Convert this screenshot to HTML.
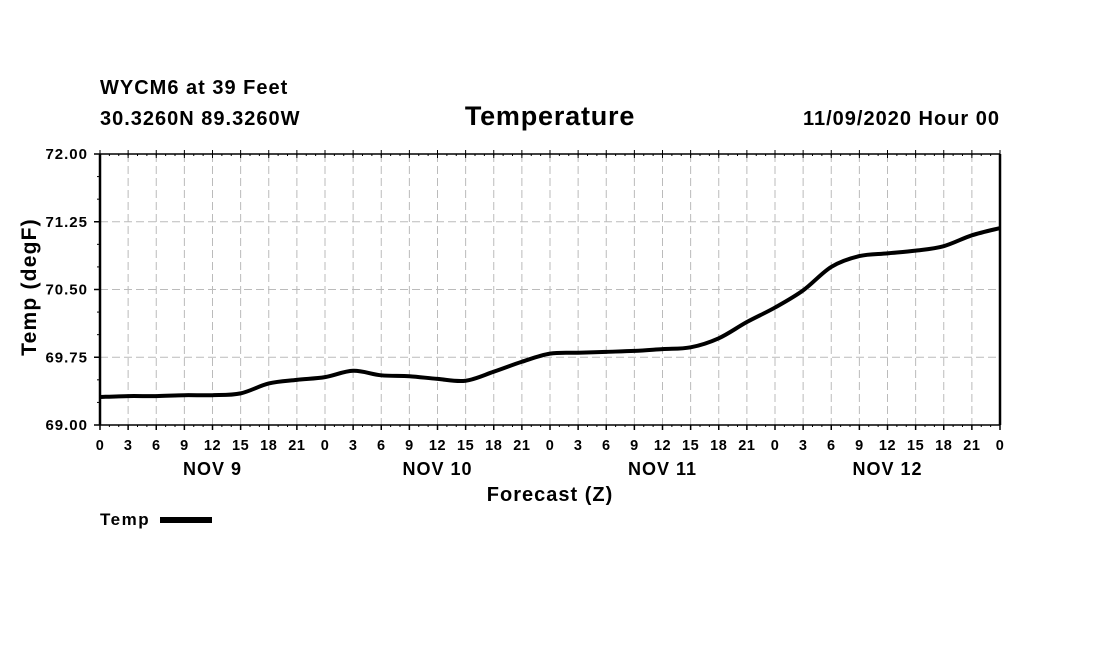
<!DOCTYPE html>
<html><head><meta charset="utf-8"><style>
body{margin:0;background:#fff;}
svg{display:block;font-family:"Liberation Sans",sans-serif;font-weight:bold;}
</style></head><body>
<svg width="1100" height="650" viewBox="0 0 1100 650">
<text x="100" y="94" font-size="20" letter-spacing="1">WYCM6 at 39 Feet</text>
<text x="100" y="125" font-size="20" letter-spacing="1">30.3260N 89.3260W</text>
<text x="550" y="125" font-size="27" letter-spacing="0.8" text-anchor="middle">Temperature</text>
<text x="1000" y="125" font-size="20" letter-spacing="1" text-anchor="end">11/09/2020 Hour 00</text>
<g id="grid"></g>
<g id="axes"></g>
<path id="line" fill="none" stroke="#000" stroke-width="4" stroke-linejoin="round"></path>
<text transform="translate(36,287) rotate(-90)" font-size="21" letter-spacing="1.2" text-anchor="middle">Temp (degF)</text>
<text x="550" y="501" font-size="20" letter-spacing="1" text-anchor="middle">Forecast (Z)</text>
<text x="100" y="525" font-size="17" letter-spacing="1.5">Temp</text>
<rect x="160" y="517" width="52" height="6" fill="#000"></rect>
</svg>
<script>
const hours=[0,3,6,9,12,15,18,21,24,27,30,33,36,39,42,45,48,51,54,57,60,63,66,69,72,75,78,81,84,87,90,93,96];
const temps=[69.31,69.32,69.32,69.33,69.33,69.35,69.46,69.50,69.53,69.60,69.55,69.54,69.51,69.49,69.59,69.70,69.79,69.80,69.81,69.82,69.84,69.86,69.96,70.14,70.30,70.49,70.75,70.87,70.90,70.93,70.98,71.10,71.18];
const yTicks=[69.00,69.75,70.50,71.25,72.00];
const dayLabels=["NOV 9","NOV 10","NOV 11","NOV 12"];
const X0=100,X1=1000,Y0=425,Y1=154,YMIN=69,YMAX=72,HMAX=96;
const xs=h=>X0+(X1-X0)*h/HMAX;
const ys=v=>Y0-(Y0-Y1)*(v-YMIN)/(YMAX-YMIN);
const NS="http://www.w3.org/2000/svg";
const grid=document.getElementById('grid'),axes=document.getElementById('axes');
function mk(tag,attrs,parent){const e=document.createElementNS(NS,tag);for(const k in attrs)e.setAttribute(k,attrs[k]);parent.appendChild(e);return e;}
for(let h=3;h<HMAX;h+=3){
 const l=mk('line',{x1:xs(h),x2:xs(h),y1:Y1,y2:Y0,stroke:'#bbb','stroke-width':1,'stroke-dasharray':'8,4'},grid);
 
 
}
yTicks.forEach((v,i)=>{
 if(i>0&&i<yTicks.length-1){
  const l=mk('line',{x1:X0,x2:X1,y1:ys(v),y2:ys(v),stroke:'#bbb','stroke-width':1,'stroke-dasharray':'8,4'},grid);
  
  
 }
 const t=mk('text',{x:88,y:ys(v)+5,'font-size':15,'letter-spacing':1,'text-anchor':'end'},axes);
 t.textContent=v.toFixed(2);
 
 
 mk('line',{x1:X0-6,x2:X0,y1:ys(v),y2:ys(v),stroke:'#000','stroke-width':1.5},axes);
});
for(let v=YMIN;v<=YMAX+1e-6;v+=0.25){mk('line',{x1:X0-3,x2:X0,y1:ys(v),y2:ys(v),stroke:'#000','stroke-width':1},axes);}
for(let h=0;h<=HMAX;h+=3){
 mk('line',{x1:xs(h),x2:xs(h),y1:Y0,y2:Y0+5,stroke:'#000','stroke-width':1.5},axes);
 mk('line',{x1:xs(h),x2:xs(h),y1:Y1-4,y2:Y1+4,stroke:'#000','stroke-width':1},axes);
 const t=mk('text',{x:xs(h),y:450,'font-size':14.5,'letter-spacing':0.5,'text-anchor':'middle'},axes);
 t.textContent=String(h%24);
 
 
}
for(let h=0;h<HMAX;h+=1){mk('line',{x1:xs(h),x2:xs(h),y1:Y0,y2:Y0+2,stroke:'#000','stroke-width':1},axes);mk('line',{x1:xs(h),x2:xs(h),y1:Y1,y2:Y1+2,stroke:'#000','stroke-width':1},axes);}
dayLabels.forEach((d,i)=>{
 const t=mk('text',{x:xs(i*24+12),y:475,'font-size':18,'letter-spacing':1,'text-anchor':'middle'},axes);
 t.textContent=d;
 
 
});
mk('line',{x1:X0,x2:X1,y1:Y1,y2:Y1,stroke:'#000','stroke-width':1.5},axes);
mk('line',{x1:X0,x2:X1,y1:Y0,y2:Y0,stroke:'#000','stroke-width':1.5},axes);
mk('line',{x1:X0,x2:X0,y1:Y1,y2:Y0,stroke:'#000','stroke-width':2.5},axes);
mk('line',{x1:X1,x2:X1,y1:Y1,y2:Y0,stroke:'#000','stroke-width':2.5},axes);
const P=hours.map((h,i)=>[xs(h),ys(temps[i])]);
let d=`M${P[0][0]},${P[0][1]}`;
for(let i=0;i<P.length-1;i++){
 const p0=P[Math.max(0,i-1)],p1=P[i],p2=P[i+1],p3=P[Math.min(P.length-1,i+2)];
 const c1=[p1[0]+(p2[0]-p0[0])/6,p1[1]+(p2[1]-p0[1])/6];
 const c2=[p2[0]-(p3[0]-p1[0])/6,p2[1]-(p3[1]-p1[1])/6];
 d+=` C${c1[0]},${c1[1]} ${c2[0]},${c2[1]} ${p2[0]},${p2[1]}`;
}
document.getElementById('line').setAttribute('d',d);
</script>
</body></html>
